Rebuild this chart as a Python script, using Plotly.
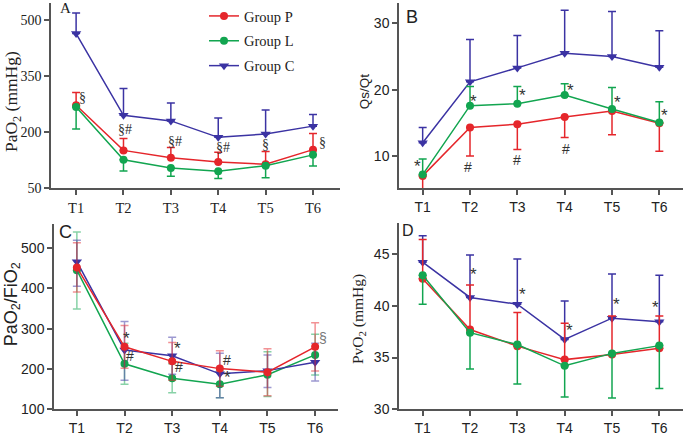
import plotly.graph_objects as go

times = ["T1", "T2", "T3", "T4", "T5", "T6"]
groups = ["Group P", "Group L", "Group C"]

# Panel A: PaO2 (mmHg)
a_p = [273, 152, 132, 121, 115, 154]
a_p_up = [34, 32, 28, 26, 34, 43]
a_l = [268, 127, 105, 96, 111, 140]
a_l_down = [59, 30, 22, 19, 32, 30]
a_c = [465, 246, 231, 187, 196, 217]
a_c_up = [55, 72, 48, 52, 64, 31]

# Panel B: Qs/Qt
b_p = [7.0, 14.3, 14.8, 15.9, 16.8, 14.95]
b_p_down = [2.5, 4.3, 3.8, 3.1, 3.6, 4.25]
b_l = [7.2, 17.6, 17.9, 19.2, 17.1, 15.05]
b_l_up = [2.35, 2.9, 2.6, 1.7, 3.25, 3.15]
b_c = [12.0, 21.2, 23.3, 25.5, 25.0, 23.4]
b_c_up = [2.3, 6.4, 4.9, 6.5, 6.8, 5.5]

# Panel C: PaO2/FiO2
c_p = [452, 255, 219, 201, 192, 255]
c_p_up = [61, 53, 47, 44, 58, 60]
c_p_down = [61, 53, 47, 44, 58, 60]
c_l = [445, 213, 177, 162, 186, 235]
c_l_up = [95, 51, 36, 33, 57, 51]
c_l_down = [96, 51, 36, 33, 54, 50]
c_c = [466, 247, 233, 188, 196, 217]
c_c_up = [53, 71, 46, 51, 39, 47]
c_c_down = [61, 75, 46, 59, 42, 47]

# Panel D: PvO2 (mmHg)
d_p = [42.6, 37.7, 36.1, 34.8, 35.3, 35.9]
d_p_up = [3.8, 4.3, 3.25, 3.5, 3.7, 3.1]
d_l = [42.95, 37.4, 36.25, 34.2, 35.4, 36.15]
d_l_down = [2.8, 3.5, 3.8, 3.0, 4.3, 4.15]
d_c = [44.2, 40.8, 40.15, 36.75, 38.8, 38.45]
d_c_up = [2.55, 4.1, 4.35, 3.7, 4.25, 4.5]

# significance labels: (time, y value, text, x shift px)
marks_a = [("T1", 295, "§", 6), ("T2", 209, "§#", 2), ("T3", 176, "§#", 4),
           ("T4", 160, "§#", 5), ("T5", 169, "§", 0), ("T6", 174, "§", 9)]
marks_b = [("T1", 8.4, "*", -5), ("T2", 8.4, "#", -2), ("T2", 18.3, "*", 3),
           ("T3", 19.2, "*", 5), ("T3", 9.4, "#", 0), ("T4", 19.9, "*", 6),
           ("T4", 11.0, "#", 1), ("T5", 18.15, "*", 5), ("T6", 16.1, "*", 5)]
marks_c = [("T2", 276, "*", 2), ("T2", 232, "#", 5), ("T3", 251, "*", 5),
           ("T3", 205, "#", 7), ("T4", 222, "#", 7), ("T4", 180, "*", 8),
           ("T6", 278, "§", 8)]
marks_d = [("T2", 43.0, "*", 3), ("T3", 41.1, "*", 5), ("T4", 37.6, "*", 5),
           ("T5", 40.1, "*", 4), ("T6", 39.8, "*", -4)]

RED = "#E5262B"
GREEN = "#12A550"
BLUE = "#3B33A3"
RED_T = "rgba(229,38,43,0.5)"
GREEN_T = "rgba(18,165,80,0.5)"
BLUE_T = "rgba(59,51,163,0.5)"
SERIF = "Liberation Serif"
SANS = "Liberation Sans"

fig = go.Figure()


def add(y, color, symbol, xa, ya, name=None, up=None, down=None, ecolor=None, legend=False):
    err = None
    if up is not None or down is not None:
        err = dict(type="data", symmetric=False,
                   array=up if up is not None else [0] * len(y),
                   arrayminus=down if down is not None else [0] * len(y),
                   color=ecolor or color, thickness=1.5, width=4)
    fig.add_trace(go.Scatter(
        x=times, y=y, mode="lines+markers", name=name,
        line=dict(color=color, width=1.5),
        marker=dict(color=color, size=8 if symbol == "circle" else 9, symbol=symbol),
        error_y=err, xaxis=xa, yaxis=ya, showlegend=legend,
        legendgroup=name if legend else None,
    ))


# Panel A
add(a_p, RED, "circle", "x", "y", groups[0], up=a_p_up, legend=True)
add(a_l, GREEN, "circle", "x", "y", groups[1], down=a_l_down, legend=True)
add(a_c, BLUE, "triangle-down", "x", "y", groups[2], up=a_c_up, legend=True)
# Panel B
add(b_c, BLUE, "triangle-down", "x2", "y2", up=b_c_up)
add(b_p, RED, "circle", "x2", "y2", down=b_p_down)
add(b_l, GREEN, "circle", "x2", "y2", up=b_l_up)
# Panel C
add(c_l, GREEN, "circle", "x3", "y3", up=c_l_up, down=c_l_down, ecolor=GREEN_T)
add(c_c, BLUE, "triangle-down", "x3", "y3", up=c_c_up, down=c_c_down, ecolor=BLUE_T)
add(c_p, RED, "circle", "x3", "y3", up=c_p_up, down=c_p_down, ecolor=RED_T)
# Panel D
add(d_c, BLUE, "triangle-down", "x4", "y4", up=d_c_up)
add(d_p, RED, "circle", "x4", "y4", up=d_p_up)
add(d_l, GREEN, "circle", "x4", "y4", down=d_l_down)

W, H = 685, 436


def xd(a, b):
    return [a / W, b / W]


def yd(top, bottom):
    return [(H - bottom) / H, (H - top) / H]


AX = "#555555"


def xax(domain, rng, anchor, font, size):
    return dict(domain=domain, range=rng, anchor=anchor, showline=True, linecolor=AX,
                linewidth=1.5, ticks="outside", ticklen=5, tickwidth=1.5, tickcolor=AX,
                showgrid=False, zeroline=False, tickfont=dict(family=font, size=size, color="#222"),
                type="category", fixedrange=True)


def yax(domain, rng, anchor, font, size, dtick, tick0):
    return dict(domain=domain, range=rng, anchor=anchor, showline=True, linecolor=AX,
                linewidth=1.5, ticks="outside", ticklen=5, tickwidth=1.5, tickcolor=AX,
                showgrid=False, zeroline=False, tickfont=dict(family=font, size=size, color="#222"),
                dtick=dtick, tick0=tick0, fixedrange=True)


fig.update_layout(
    width=W, height=H, margin=dict(l=0, r=0, t=0, b=0, pad=0),
    plot_bgcolor="white", paper_bgcolor="white",
    xaxis=xax(xd(51, 340), [-0.53, 5.57], "y", SERIF, 14.5),
    yaxis=yax(yd(3, 192), [50, 547], "x", SERIF, 14, 150, 50),
    xaxis2=xax(xd(399, 683), [-0.5, 5.5], "y2", SANS, 14),
    yaxis2=yax(yd(3, 192), [5.1, 33.1], "x2", SANS, 14, 10, 0),
    xaxis3=xax(xd(54, 338), [-0.48, 5.48], "y3", SANS, 14),
    yaxis3=yax(yd(228, 417), [100, 560], "x3", SANS, 14, 100, 0),
    xaxis4=xax(xd(399, 683), [-0.5, 5.5], "y4", SANS, 14),
    yaxis4=yax(yd(227, 417), [30, 48], "x4", SANS, 14, 5, 0),
    legend=dict(x=204 / W, y=1.0, xanchor="left", yanchor="top",
                font=dict(family=SERIF, size=14.5, color="#222"),
                bgcolor="rgba(0,0,0,0)", traceorder="grouped", tracegroupgap=3),
    showlegend=True,
)

anns = []
for t, v, s, dx in marks_a:
    anns.append(dict(x=t, y=v, xref="x", yref="y", text=s, showarrow=False, xshift=dx,
                     font=dict(family=SERIF, size=14, color="#333")))
for axes, marks in (("2", marks_b), ("3", marks_c), ("4", marks_d)):
    for t, v, s, dx in marks:
        f = dict(family=SANS, size=17 if s == "*" else 14, color="#333")
        if s == "§":
            f = dict(family=SANS, size=14, color="#777")
        anns.append(dict(x=t, y=v, xref="x" + axes, yref="y" + axes, text=s,
                         showarrow=False, xshift=dx, font=f))

# panel letters
for txt, px, py, fam, sz in (("A", 65, 8, SERIF, 15), ("B", 412, 17, SANS, 18),
                             ("C", 65, 236, SANS, 18), ("D", 408, 235, SANS, 16)):
    anns.append(dict(x=px / W, y=1 - py / H, xref="paper", yref="paper", text=txt,
                     showarrow=False, font=dict(family=fam, size=sz, color="#222"),
                     xanchor="center", yanchor="middle"))

# axis titles
for txt, px, py, fam, sz in (("PaO<sub>2</sub> (mmHg)", 12, 104, SERIF, 17.5),
                             ("Qs/Qt", 364, 93, SANS, 13.5),
                             ("PaO<sub>2</sub>/FiO<sub>2</sub>", 12, 310, SANS, 18),
                             ("PvO<sub>2</sub> (mmHg)", 358, 325, SERIF, 15.5)):
    anns.append(dict(x=px / W, y=1 - py / H, xref="paper", yref="paper", text=txt,
                     textangle=-90, showarrow=False, font=dict(family=fam, size=sz, color="#222"),
                     xanchor="center", yanchor="middle"))

fig.update_layout(annotations=anns)
POST = ("var s=document.documentElement.style;s.margin='0';s.padding='0';s.overflow='hidden';"
        "var b=document.body.style;b.margin='0';b.padding='0';b.overflow='hidden';"
        "b.height='436px';s.height='436px';")
fig.write_html("out.html", config={"displayModeBar": False, "responsive": False},
               post_script=POST)
